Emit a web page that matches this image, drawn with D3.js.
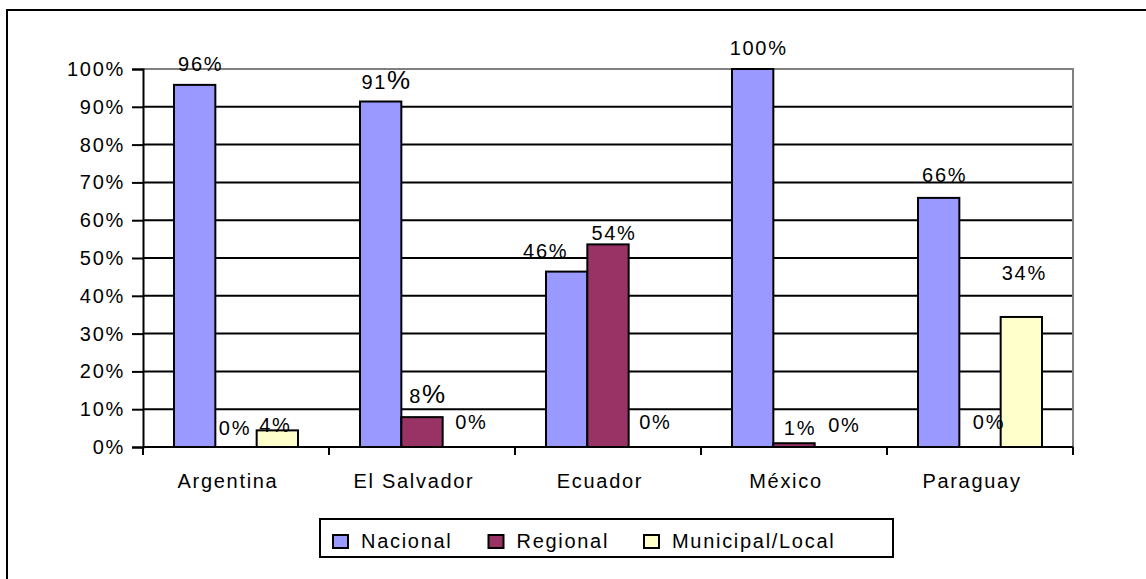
<!DOCTYPE html>
<html>
<head>
<meta charset="utf-8">
<script src="https://cdn.jsdelivr.net/npm/d3@7"></script>
<style>
  body { margin: 0; background: #fff; }
  svg { display: block; }
  text { font-family: "Liberation Sans", Arial, sans-serif; fill: #000; }
</style>
</head>
<body>
<div id="chart"></div>
<script>
// data
const categories = ["Argentina", "El Salvador", "Ecuador", "México", "Paraguay"];
const seriesNames = ["Nacional", "Regional", "Municipal/Local"];
const nacional = [0.958, 0.914, 0.464, 1.0, 0.659];
const regional = [0, 0.079, 0.536, 0.01, 0];
const municipal = [0.044, 0, 0, 0, 0.344];
const yTicks = [0, 0.1, 0.2, 0.3, 0.4, 0.5, 0.6, 0.7, 0.8, 0.9, 1];

const colors = {
  "Nacional": "#9999FF",
  "Regional": "#993366",
  "Municipal/Local": "#FFFFCC"
};

// hand placed labels in the original chart (layout only)
const labelNudge = {
  "Argentina|Regional": [-7, 2],
  "Argentina|Municipal/Local": [-8, 16],
  "El Salvador|Nacional": [0, 1],
  "El Salvador|Municipal/Local": [2, -4],
  "Ecuador|Nacional": [-27, 0],
  "Ecuador|Regional": [0, 10],
  "Ecuador|Municipal/Local": [0, -4],
  "México|Regional": [0, 6],
  "México|Municipal/Local": [3, -1],
  "Paraguay|Nacional": [0, -2],
  "Paraguay|Regional": [3, -4],
  "Paraguay|Municipal/Local": [-3, -23]
};
const bigPercent = ["El Salvador|Nacional", "El Salvador|Regional"];

const width = 1146, height = 579;
const plot = { left: 143, right: 1073, top: 69, bottom: 447 };
const fontSize = 20, spacing = 1.7;

const rows = categories.map((c, i) => ({
  category: c,
  values: [nacional[i], regional[i], municipal[i]].map((v, j) => ({ series: seriesNames[j], value: v }))
}));

const svg = d3.select("#chart")
  .append("svg")
  .attr("width", width)
  .attr("height", height);

// outer chart frame (only top and left edges are in view)
svg.append("rect")
  .attr("x", 7)
  .attr("y", 10)
  .attr("width", 1300)
  .attr("height", 700)
  .attr("fill", "none")
  .attr("stroke", "#000")
  .attr("stroke-width", 2);

const x0 = d3.scaleBand()
  .domain(categories)
  .range([plot.left, plot.right]);

const x1 = d3.scaleBand()
  .domain(seriesNames)
  .range([0, x0.bandwidth()])
  .paddingOuter(0.75);

const y = d3.scaleLinear()
  .domain([0, 1])
  .range([plot.bottom, plot.top]);

const fmt = d3.format(".0%");

// gridlines
svg.append("g")
  .selectAll("line")
  .data(yTicks.filter(t => t > 0 && t < 1))
  .join("line")
  .attr("x1", plot.left)
  .attr("x2", plot.right)
  .attr("y1", d => y(d))
  .attr("y2", d => y(d))
  .attr("stroke", "#000")
  .attr("stroke-width", 2);

// plot area border, top and right in grey
svg.append("path")
  .attr("d", `M${plot.left},${y(1)}H${plot.right}V${plot.bottom}`)
  .attr("fill", "none")
  .attr("stroke", "#808080")
  .attr("stroke-width", 2);

// bars
const groups = svg.append("g")
  .selectAll("g")
  .data(rows)
  .join("g")
  .attr("transform", d => `translate(${x0(d.category)},0)`);

groups.selectAll("rect")
  .data(d => d.values)
  .join("rect")
  .attr("x", d => x1(d.series))
  .attr("y", d => y(d.value))
  .attr("width", x1.bandwidth())
  .attr("height", d => y(0) - y(d.value))
  .attr("fill", d => colors[d.series])
  .attr("stroke", "#000")
  .attr("stroke-width", 2);

// y axis
const yAxis = svg.append("g")
  .attr("transform", `translate(${plot.left},0)`)
  .call(d3.axisLeft(y).tickValues(yTicks).tickFormat(fmt).tickSize(11).tickPadding(7));
yAxis.select(".domain").attr("stroke", "#000").attr("stroke-width", 2);
yAxis.selectAll(".tick line").attr("stroke", "#000").attr("stroke-width", 2);
yAxis.selectAll(".tick text")
  .attr("font-size", fontSize)
  .attr("letter-spacing", spacing)
  .attr("font-family", "Liberation Sans, Arial, sans-serif")
  .attr("fill", "#000");

// x axis: ticks at category boundaries
const xAxis = svg.append("g");
xAxis.append("line")
  .attr("x1", plot.left)
  .attr("x2", plot.right)
  .attr("y1", plot.bottom)
  .attr("y2", plot.bottom)
  .attr("stroke", "#000")
  .attr("stroke-width", 2);
xAxis.selectAll(".edge")
  .data(categories.concat([null]))
  .join("line")
  .attr("class", "edge")
  .attr("x1", (d, i) => i < categories.length ? x0(d) : plot.right)
  .attr("x2", (d, i) => i < categories.length ? x0(d) : plot.right)
  .attr("y1", plot.bottom)
  .attr("y2", plot.bottom + 8)
  .attr("stroke", "#000")
  .attr("stroke-width", 2);
xAxis.selectAll(".cat")
  .data(categories)
  .join("text")
  .attr("class", "cat")
  .attr("x", d => x0(d) + x0.bandwidth() / 2 - 8)
  .attr("y", 488)
  .attr("text-anchor", "middle")
  .attr("font-size", fontSize)
  .attr("letter-spacing", spacing)
  .text(d => d);

// data labels
groups.selectAll(".lbl")
  .data(d => d.values.map(v => ({ ...v, key: d.category + "|" + v.series })))
  .join("text")
  .attr("class", "lbl")
  .attr("x", d => x1(d.series) + x1.bandwidth() / 2 + 6 + (labelNudge[d.key] || [0, 0])[0])
  .attr("y", d => y(d.value) - 14 + (labelNudge[d.key] || [0, 0])[1])
  .attr("text-anchor", "middle")
  .attr("font-size", fontSize)
  .attr("letter-spacing", spacing)
  .each(function (d) {
    const t = d3.select(this);
    const s = fmt(d.value);
    if (bigPercent.includes(d.key)) {
      t.append("tspan").text(s.slice(0, -1));
      t.append("tspan").attr("font-size", 26).text("%");
    } else {
      t.text(s);
    }
  });

// legend
const legend = svg.append("g");
legend.append("rect")
  .attr("x", 320)
  .attr("y", 519)
  .attr("width", 573)
  .attr("height", 38)
  .attr("fill", "#fff")
  .attr("stroke", "#000")
  .attr("stroke-width", 2);

seriesNames.forEach((name, i) => {
  const lx = 333 + i * 155.5;
  legend.append("rect")
    .attr("x", lx)
    .attr("y", 535)
    .attr("width", 15)
    .attr("height", 13)
    .attr("fill", colors[name])
    .attr("stroke", "#000")
    .attr("stroke-width", 2);
  legend.append("text")
    .attr("x", lx + 28)
    .attr("y", 548)
    .attr("font-size", fontSize)
    .attr("letter-spacing", spacing)
    .text(name);
});
</script>
</body>
</html>
